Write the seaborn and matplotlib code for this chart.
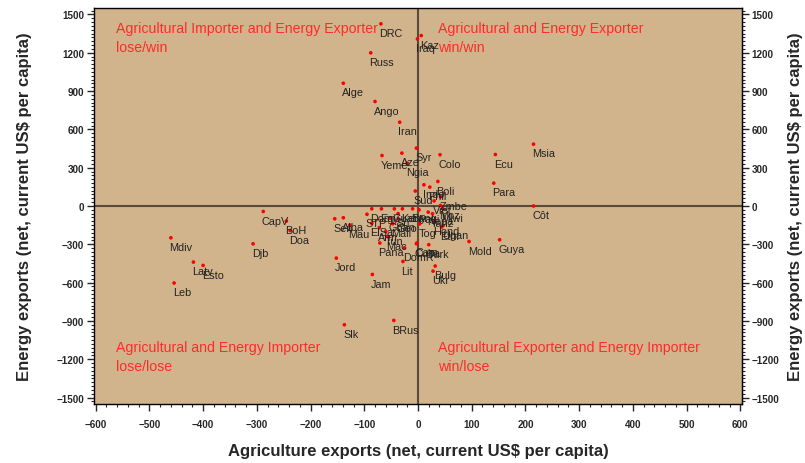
import numpy as np
import pandas as pd
import matplotlib
matplotlib.use("Agg")
import matplotlib.pyplot as plt
from matplotlib.ticker import MultipleLocator
import seaborn as sns

# country abbreviations and their net exports per capita (current US$)
countries = ["DRC", "Kaz", "Iraq", "Russ", "Alge", "Ango", "Iran", "Syr", "Yeme", "Aze",
             "Ngia", "Colo", "Ecu", "Msia", "Para", "Côt", "Boli", "Indo", "Phil", "Sud",
             "Viet", "Zmbe", "Mlwi", "Sen", "Alba", "STP", "Mau", "ElSa", "Arm", "Geo",
             "Tog", "Hond", "Domi", "Egy", "Guat", "Keny", "Bang", "Paki", "Mac", "Pana",
             "DomR", "Lit", "Cuba", "Turk", "Bulg", "Ukr", "Jord", "Jam", "Slk", "BRus",
             "Mold", "Guya", "CapV", "BoH", "Doa", "Mdiv", "Djb", "Latv", "Esto", "Leb",
             "Ghan", "Mali", "Nepa", "Tanz", "Ugan", "Ethi", "Moz", "Cam", "Sri", "Tun"]
agri = [-69, 6, -1, -88, -139, -80, -34, -3, -67, -30,
        -20, 41, 144, 215, 141, 215, 37, 11, 22, -5,
        30, 42, 46, -155, -139, -95, -127, -86, -72, -37,
        3, 31, -86, -68, -44, -29, -10, 2, -56, -71,
        -25, -28, -3, 20, 32, 28, -152, -85, -137, -45,
        95, 152, -288, -245, -238, -460, -307, -418, -400, -454,
        -52, -47, 19, 27, 47, 44, 42, -2, -37, -60]
energy = [1426, 1334, 1308, 1199, 961, 818, 656, 453, 395, 414,
          336, 401, 403, 484, 179, 0, 192, 166, 148, 117,
          40, 72, -20, -100, -92, -65, -150, -135, -170, -100,
          -140, -126, -22, -22, -22, -22, -22, -30, -241, -290,
          -327, -434, -295, -303, -470, -510, -408, -536, -930, -896,
          -278, -264, -43, -118, -192, -249, -296, -439, -465, -603,
          -95, -139, -48, -61, -152, -165, 4, -290, -60, -200]

quad_text = ["Agricultural Importer and Energy Exporter\nlose/win",
             "Agricultural and Energy Exporter\nwin/win",
             "Agricultural and Energy Importer\nlose/lose",
             "Agricultural Exporter and Energy Importer\nwin/lose"]
quad_x = [-562, 37, -562, 37]
quad_y = [1450, 1450, -1052, -1052]

df = pd.DataFrame({"country": countries, "agri": agri, "energy": energy})

sns.set_style("ticks")
plt.rcParams["font.family"] = ["Liberation Sans", "DejaVu Sans"]

fig = plt.figure(figsize=(8.05, 4.64), dpi=100)
ax = fig.add_axes([0.1168, 0.1272, 0.8049, 0.8534])
ax.set_facecolor("#D2B48C")

ax.axhline(0, color="#5a4a3a", lw=1.5, zorder=1)
ax.axvline(0, color="#5a4a3a", lw=1.5, zorder=1)

sns.scatterplot(data=df, x="agri", y="energy", color="#ff0000", s=7,
                edgecolor="none", ax=ax, zorder=3)

for _, r in df.iterrows():
    ax.annotate(r["country"], (r["agri"], r["energy"]), xytext=(-1, -3),
                textcoords="offset points", ha="left", va="top",
                fontsize=7.8, color="#222222", zorder=4)

for t, qx, qy in zip(quad_text, quad_x, quad_y):
    ax.text(qx, qy, t, color="#ff2a2a", fontsize=10.2, ha="left", va="top",
            linespacing=1.45, zorder=5)

ax.set_xlim(-603, 603)
ax.set_ylim(-1550, 1550)
ax.xaxis.set_major_locator(MultipleLocator(100))
ax.xaxis.set_minor_locator(MultipleLocator(20))
ax.yaxis.set_major_locator(MultipleLocator(300))
ax.yaxis.set_minor_locator(MultipleLocator(30))

ax.tick_params(which="major", length=5, width=1, direction="out")
ax.tick_params(which="minor", length=2.5, width=0.8, direction="out")
ax.tick_params(axis="x", pad=6)
ax.tick_params(axis="y", pad=2)
for lab in ax.get_xticklabels() + ax.get_yticklabels():
    lab.set_fontweight("bold")
    lab.set_fontsize(7.1)

sec = ax.secondary_yaxis("right")
sec.yaxis.set_major_locator(MultipleLocator(300))
sec.yaxis.set_minor_locator(MultipleLocator(30))
sec.tick_params(which="major", length=5, width=1, direction="out", pad=2)
sec.tick_params(which="minor", length=2.5, width=0.8, direction="out")
for lab in sec.get_yticklabels():
    lab.set_fontweight("bold")
    lab.set_fontsize(7.1)

ylab = "Energy exports (net, current US$ per capita)"
ax.set_xlabel("Agriculture exports (net, current US$ per capita)", fontsize=12,
              fontweight="bold", labelpad=10)
ax.set_ylabel(ylab, fontsize=12, fontweight="bold", labelpad=18)
sec.set_ylabel(ylab, fontsize=12, fontweight="bold", rotation=90, labelpad=6)

for s in ax.spines.values():
    s.set_color("black")
    s.set_linewidth(1)

fig.savefig("out.png", dpi=100, facecolor="white")
